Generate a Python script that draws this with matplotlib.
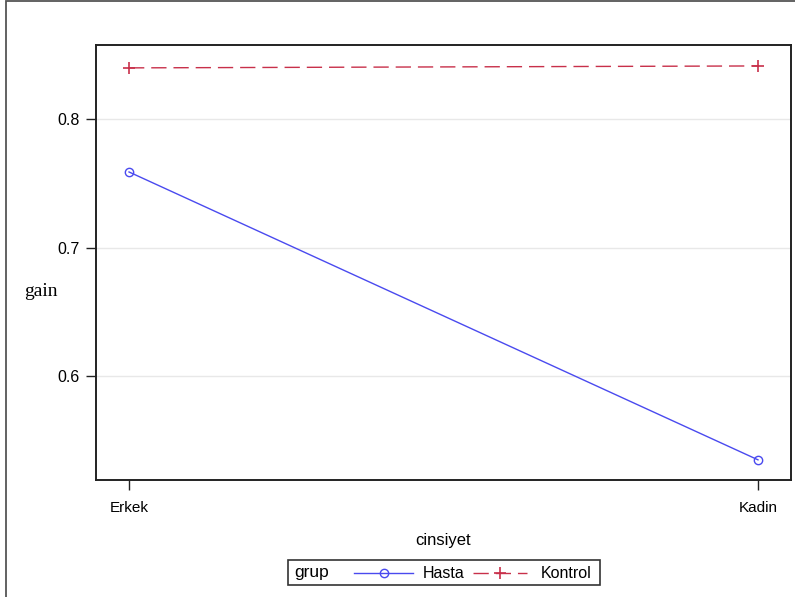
import matplotlib
matplotlib.use("Agg")
import matplotlib.pyplot as plt
from matplotlib.lines import Line2D
from matplotlib.patches import Rectangle

# Mean gain by sex for each group
categories = ["Erkek", "Kadin"]
hasta = [0.759, 0.535]
kontrol = [0.840, 0.8415]
y_ticks = [0.6, 0.7, 0.8]
y_tick_labels = ["0.6", "0.7", "0.8"]

W, H = 795, 597
fig = plt.figure(figsize=(W / 100, H / 100), dpi=100)
fig.patch.set_facecolor("white")

sans = ["Liberation Sans", "DejaVu Sans"]
serif = ["Liberation Serif", "DejaVu Serif"]

# Outer frame of the graph region
fig.patches.append(Rectangle((5.5 / W, -0.05), 1.2, 1 - 0.5 / H + 0.05,
                             transform=fig.transFigure, fill=False,
                             edgecolor="#555555", linewidth=1.3))

ax = fig.add_axes([96 / W, 1 - 480 / H, (791 - 96) / W, (480 - 45) / H])

blue = "#4a4aef"
red = "#c8304a"
x = list(range(len(categories)))

ax.plot(x, hasta, color=blue, linewidth=1.0, marker="o", markersize=6,
        markerfacecolor="none", markeredgecolor=blue, markeredgewidth=1.0)
ax.plot(x, kontrol, color=red, linewidth=1.0, linestyle=(0, (11, 5)),
        marker="+", markersize=9, markeredgewidth=1.2)

ax.set_xlim(-0.0525, 1.0525)
ax.set_ylim(0.5193, 0.8578)
ax.set_xticks(x)
ax.set_xticklabels(categories, fontfamily=sans, fontsize=11)
ax.set_yticks(y_ticks)
ax.set_yticklabels(y_tick_labels, fontfamily=sans, fontsize=11.5)
ax.tick_params(axis="both", direction="out", length=7, width=1.0, color="#222222", pad=5)
ax.tick_params(axis="x", pad=8)
ax.grid(axis="y", color="#e8e8e8", linewidth=1.0)
ax.set_axisbelow(True)
for s in ax.spines.values():
    s.set_color("#222222")
    s.set_linewidth(1.4)

ax.set_xlabel("cinsiyet", fontfamily=sans, fontsize=12, labelpad=13)
fig.text(41 / W, 1 - 292 / H, "gain", fontfamily=serif, fontsize=14,
         ha="center", va="center")

# Legend strip below the plot
lx0, lx1, ly0, ly1 = 288, 600, 560, 585
fig.patches.append(Rectangle((lx0 / W, 1 - ly1 / H), (lx1 - lx0) / W, (ly1 - ly0) / H,
                             transform=fig.transFigure, fill=False,
                             edgecolor="#333333", linewidth=1.2))
yc = 1 - 573 / H
fig.text(294 / W, yc, "grup", fontfamily=sans, fontsize=12.5, ha="left", va="center")
fig.lines.append(Line2D([354 / W, 413 / W], [yc, yc], transform=fig.transFigure,
                        color=blue, linewidth=1.0))
fig.lines.append(Line2D([384 / W], [yc], transform=fig.transFigure, color=blue,
                        marker="o", markersize=6, markerfacecolor="none",
                        markeredgewidth=1.0))
fig.text(423 / W, yc, "Hasta", fontfamily=sans, fontsize=11.5, ha="left", va="center")
fig.lines.append(Line2D([473 / W, 527 / W], [yc, yc], transform=fig.transFigure,
                        color=red, linewidth=1.0, linestyle=(0, (11, 5))))
fig.lines.append(Line2D([500 / W], [yc], transform=fig.transFigure, color=red,
                        marker="+", markersize=9, markeredgewidth=1.2))
fig.text(541 / W, yc, "Kontrol", fontfamily=sans, fontsize=11.5, ha="left", va="center")

fig.savefig("out.png", dpi=100)
